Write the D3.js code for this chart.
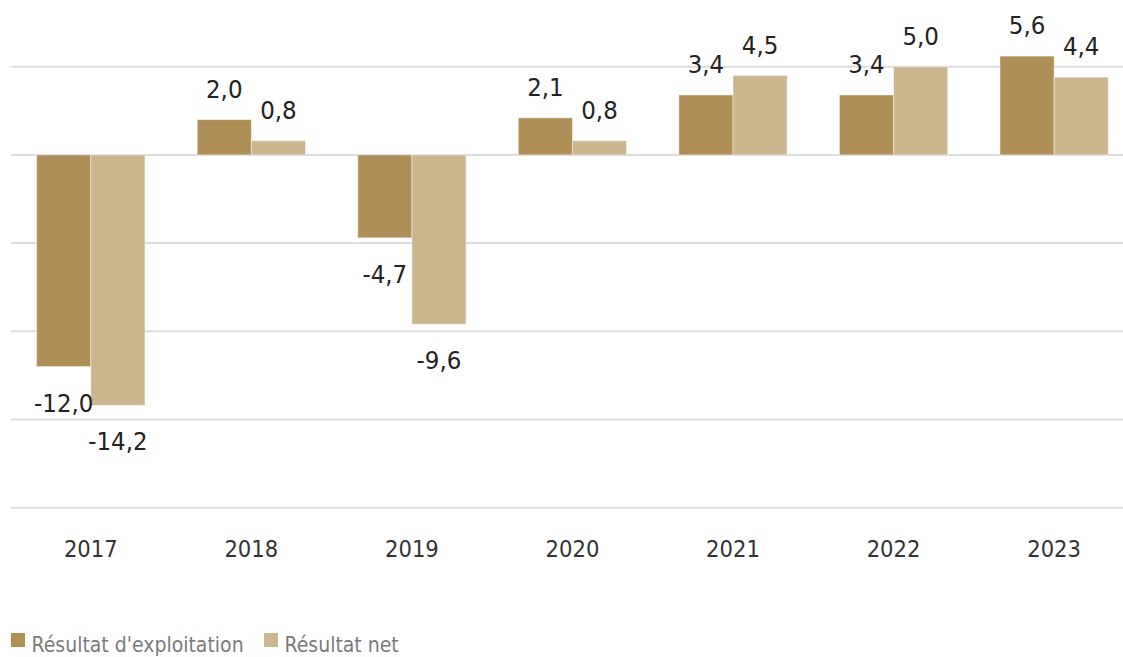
<!DOCTYPE html>
<html>
<head>
<meta charset="utf-8">
<script src="https://cdn.jsdelivr.net/npm/d3@7"></script>
<style>
  body { margin: 0; background: #fff; }
  svg { display: block; }
</style>
</head>
<body>
<div id="chart"></div>
<script>
  // data
  const years = ["2017", "2018", "2019", "2020", "2021", "2022", "2023"];
  const resultatExploitation = [-12.0, 2.0, -4.7, 2.1, 3.4, 3.4, 5.6];
  const resultatNet = [-14.2, 0.8, -9.6, 0.8, 4.5, 5.0, 4.4];
  const gridValues = [5, 0, -5, -10, -15, -20];
  const seriesNames = ["Résultat d'exploitation", "Résultat net"];
  const seriesColors = ["#af8f57", "#cbb690"];

  const width = 1123;
  const height = 657;
  const labelFont = "'DejaVu Sans Condensed', sans-serif";

  const svg = d3.select("#chart")
    .append("svg")
    .attr("width", width)
    .attr("height", height);

  const xScale = d3.scaleBand()
    .domain(years)
    .range([10.5, 1134.4])
    .paddingInner(0.3255)
    .paddingOuter(0.3255 / 2);

  const xSub = d3.scaleBand()
    .domain([0, 1])
    .range([0, xScale.bandwidth()]);

  const yScale = d3.scaleLinear()
    .domain([-20, 5])
    .range([507.7, 66.7]);

  // gridlines
  svg.append("g")
    .selectAll("line")
    .data(gridValues)
    .join("line")
    .attr("x1", 11)
    .attr("x2", width)
    .attr("y1", d => yScale(d))
    .attr("y2", d => yScale(d))
    .attr("stroke", "#dddddd")
    .attr("stroke-width", 2);

  const rows = years.map((y, i) => ({
    year: y,
    values: [resultatExploitation[i], resultatNet[i]]
  }));

  const groups = svg.append("g")
    .selectAll("g")
    .data(rows)
    .join("g")
    .attr("transform", d => `translate(${xScale(d.year)}, 0)`);

  groups.selectAll("rect")
    .data(d => d.values.map((v, k) => ({ v, k })))
    .join("rect")
    .attr("x", d => xSub(d.k))
    .attr("width", xSub.bandwidth())
    .attr("y", d => yScale(Math.max(0, d.v)))
    .attr("height", d => Math.abs(yScale(d.v) - yScale(0)))
    .attr("fill", d => seriesColors[d.k])
    .attr("stroke", "rgba(255,255,255,0.45)")
    .attr("stroke-width", 1);

  const fmt = v => v.toFixed(1).replace(".", ",");

  groups.selectAll("text")
    .data(d => d.values.map((v, k) => ({ v, k })))
    .join("text")
    .attr("x", d => xSub(d.k) + xSub.bandwidth() / 2)
    .attr("y", d => d.v >= 0 ? yScale(d.v) - 22 : yScale(d.v) + 45)
    .attr("text-anchor", "middle")
    .attr("font-family", labelFont)
    .attr("font-size", 25.5)
    .attr("fill", "#222")
    .text(d => fmt(d.v));

  // year labels
  svg.append("g")
    .selectAll("text")
    .data(years)
    .join("text")
    .attr("x", d => xScale(d) + xScale.bandwidth() / 2)
    .attr("y", 557)
    .attr("text-anchor", "middle")
    .attr("font-family", labelFont)
    .attr("font-size", 23.5)
    .attr("fill", "#333")
    .text(d => d);

  // legend
  const legendX = [11, 264];
  const legend = svg.append("g")
    .selectAll("g")
    .data(seriesNames)
    .join("g")
    .attr("transform", (d, i) => `translate(${legendX[i]}, 633)`);

  legend.append("rect")
    .attr("width", 14)
    .attr("height", 14)
    .attr("fill", (d, i) => seriesColors[i]);

  legend.append("text")
    .attr("x", 20.5)
    .attr("y", 19)
    .attr("font-family", labelFont)
    .attr("font-size", 21)
    .attr("fill", "#7a7a7a")
    .text(d => d);
</script>
</body>
</html>
